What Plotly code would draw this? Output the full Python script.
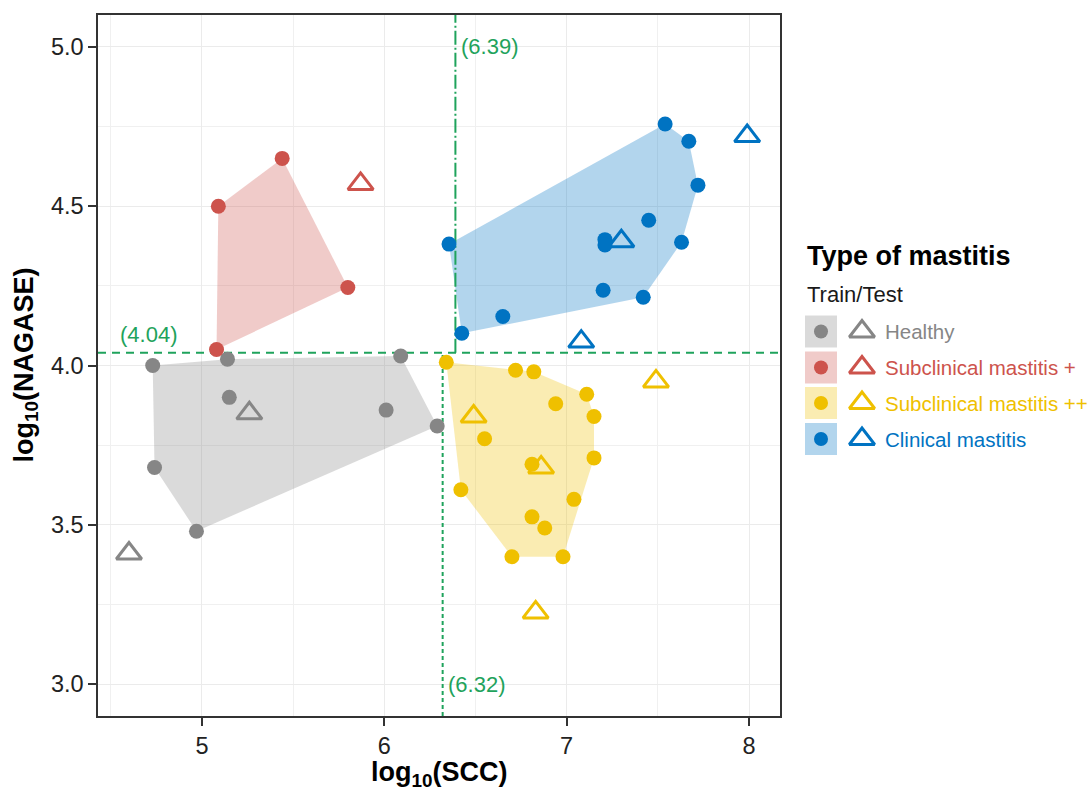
import plotly.graph_objects as go

# ---------------- data ----------------
healthy_train_x = [4.73, 5.14, 5.15, 4.74, 4.97, 6.01, 6.09, 6.29]
healthy_train_y = [4.00, 4.02, 3.90, 3.68, 3.48, 3.86, 4.03, 3.81]
healthy_test_x = [5.26, 4.60]
healthy_test_y = [3.85, 3.41]

sub1_train_x = [5.44, 5.09, 5.80, 5.08]
sub1_train_y = [4.65, 4.50, 4.245, 4.05]
sub1_test_x = [5.87]
sub1_test_y = [4.57]

sub2_train_x = [6.34, 6.72, 6.82, 7.11, 6.94, 7.15, 6.55, 7.15, 6.81, 6.42, 7.04, 6.81, 6.88, 6.70, 6.98]
sub2_train_y = [4.01, 3.985, 3.98, 3.91, 3.88, 3.84, 3.77, 3.71, 3.69, 3.61, 3.58, 3.525, 3.49, 3.40, 3.40]
sub2_test_x = [6.49, 6.86, 7.49, 6.83]
sub2_test_y = [3.84, 3.68, 3.95, 3.225]

clin_train_x = [7.54, 7.67, 7.72, 7.45, 6.355, 7.21, 7.21, 7.63, 7.20, 7.42, 6.65, 6.425]
clin_train_y = [4.758, 4.704, 4.566, 4.456, 4.381, 4.395, 4.378, 4.387, 4.236, 4.214, 4.154, 4.101]
clin_test_x = [7.30, 7.08, 7.99]
clin_test_y = [4.39, 4.075, 4.72]

group_names = ["Healthy", "Subclinical mastitis +", "Subclinical mastitis ++", "Clinical mastitis"]
group_colors = ["#868686", "#CD534C", "#EFC000", "#0073C2"]
group_fills = ["rgba(134,134,134,0.3)", "rgba(205,83,76,0.3)", "rgba(239,192,0,0.3)", "rgba(0,115,194,0.3)"]

scc_cut_low = 6.32
scc_cut_high = 6.39
nagase_cut = 4.04

x_range = [4.43, 8.17]
y_range = [2.9, 5.1]

GREEN = "#1FA35C"
FONT = "Arial, Liberation Sans, sans-serif"

train = [(healthy_train_x, healthy_train_y), (sub1_train_x, sub1_train_y),
         (sub2_train_x, sub2_train_y), (clin_train_x, clin_train_y)]
test = [(healthy_test_x, healthy_test_y), (sub1_test_x, sub1_test_y),
        (sub2_test_x, sub2_test_y), (clin_test_x, clin_test_y)]


def convex_hull(xs, ys):
    pts = sorted(set(zip(xs, ys)))
    if len(pts) <= 2:
        return pts

    def cross(o, a, b):
        return (a[0] - o[0]) * (b[1] - o[1]) - (a[1] - o[1]) * (b[0] - o[0])

    lower = []
    for p in pts:
        while len(lower) >= 2 and cross(lower[-2], lower[-1], p) <= 0:
            lower.pop()
        lower.append(p)
    upper = []
    for p in reversed(pts):
        while len(upper) >= 2 and cross(upper[-2], upper[-1], p) <= 0:
            upper.pop()
        upper.append(p)
    return lower[:-1] + upper[:-1]


fig = go.Figure()

# hulls
for (xs, ys), fc in zip(train, group_fills):
    h = convex_hull(xs, ys)
    hx = [p[0] for p in h] + [h[0][0]]
    hy = [p[1] for p in h] + [h[0][1]]
    fig.add_trace(go.Scatter(x=hx, y=hy, mode="lines", fill="toself", fillcolor=fc,
                             line=dict(width=0), hoverinfo="skip", showlegend=False))

# threshold lines
fig.add_trace(go.Scatter(x=x_range, y=[nagase_cut, nagase_cut], mode="lines",
                         line=dict(color=GREEN, width=2, dash="8px,6px"),
                         hoverinfo="skip", showlegend=False))
fig.add_trace(go.Scatter(x=[scc_cut_low, scc_cut_low], y=[y_range[0], nagase_cut], mode="lines",
                         line=dict(color=GREEN, width=2, dash="4px,3px"),
                         hoverinfo="skip", showlegend=False))
fig.add_trace(go.Scatter(x=[scc_cut_high, scc_cut_high], y=[nagase_cut, y_range[1]], mode="lines",
                         line=dict(color=GREEN, width=2, dash="14px,3px,2px,3px"),
                         hoverinfo="skip", showlegend=False))

TRI_SIZE = 22

# test triangles
for (xs, ys), c in zip(test, group_colors):
    fig.add_trace(go.Scatter(x=xs, y=ys, mode="markers",
                             marker=dict(symbol="triangle-up-open", size=TRI_SIZE, color=c,
                                         line=dict(width=3, color=c)),
                             showlegend=False))
# train circles
for (xs, ys), c in zip(train, group_colors):
    fig.add_trace(go.Scatter(x=xs, y=ys, mode="markers",
                             marker=dict(symbol="circle", size=15, color=c, line=dict(width=0)),
                             showlegend=False))

# ---------------- custom legend (pixel coordinates on hidden axes) ----------------
W, H = 1091, 794
ML, MR, MT, MB = 98, 1, 15, 78
PW = W - ML - MR
PH = H - MT - MB
main_dom = 682 / PW
leg_dom0 = 0.70
leg_x0 = ML + leg_dom0 * PW

legend_y = [331.5, 367.5, 403, 439]
box_x = [805, 837]
circle_x = 821
tri_x = 862
text_x = 883

for yc, c, fc, name in zip(legend_y, group_colors, group_fills, group_names):
    fig.add_shape(type="rect", xref="x2", yref="y2", x0=box_x[0], x1=box_x[1],
                  y0=yc - 16, y1=yc + 16, fillcolor=fc, line=dict(width=0))
    fig.add_trace(go.Scatter(x=[circle_x], y=[yc], xaxis="x2", yaxis="y2", mode="markers",
                             marker=dict(symbol="circle", size=14, color=c), showlegend=False,
                             hoverinfo="skip"))
    fig.add_trace(go.Scatter(x=[tri_x], y=[yc], xaxis="x2", yaxis="y2", mode="markers",
                             marker=dict(symbol="triangle-up-open", size=TRI_SIZE, color=c,
                                         line=dict(width=3, color=c)),
                             showlegend=False, hoverinfo="skip"))
    fig.add_annotation(x=text_x, y=yc, xref="x2", yref="y2", text=name, showarrow=False,
                       xanchor="left", yanchor="middle", font=dict(size=20.5, color=c, family=FONT))

fig.add_annotation(x=805, y=256, xref="x2", yref="y2", text="<b>Type of mastitis</b>",
                   showarrow=False, xanchor="left", yanchor="middle",
                   font=dict(size=27, color="#000000", family=FONT))
fig.add_annotation(x=805, y=294, xref="x2", yref="y2", text="Train/Test",
                   showarrow=False, xanchor="left", yanchor="middle",
                   font=dict(size=22, color="#1a1a1a", family=FONT))

# threshold labels
fig.add_annotation(x=scc_cut_high, y=5.0, xref="x", yref="y", text="(6.39)", showarrow=False,
                   xanchor="left", yanchor="middle", xshift=4,
                   font=dict(size=22, color=GREEN, family=FONT))
fig.add_annotation(x=scc_cut_low, y=3.0, xref="x", yref="y", text="(6.32)", showarrow=False,
                   xanchor="left", yanchor="middle", xshift=3,
                   font=dict(size=22, color=GREEN, family=FONT))
fig.add_annotation(x=4.54, y=nagase_cut, xref="x", yref="y", text="(4.04)", showarrow=False,
                   xanchor="left", yanchor="bottom", yshift=4,
                   font=dict(size=22, color=GREEN, family=FONT))

# axis titles
fig.add_annotation(x=main_dom / 2, y=-(774 - (H - MB)) / PH, xref="paper", yref="paper",
                   text="<b>log<sub>10</sub>(SCC)</b>", showarrow=False,
                   xanchor="center", yanchor="middle",
                   font=dict(size=27, color="#000000", family=FONT))
fig.add_annotation(x=(25 - ML) / PW, y=0.5, xref="paper", yref="paper",
                   text="<b>log<sub>10</sub>(NAGASE)</b>", showarrow=False, textangle=-90,
                   xanchor="center", yanchor="middle",
                   font=dict(size=27, color="#000000", family=FONT))

axis_common = dict(showline=True, mirror=True, linecolor="#333333", linewidth=1.5,
                   ticks="outside", ticklen=8, tickwidth=1.5, tickcolor="#333333",
                   gridcolor="#EBEBEB", gridwidth=1.3, zeroline=False,
                   tickfont=dict(size=23.5, color="#222222", family=FONT))

fig.update_layout(
    width=W, height=H,
    margin=dict(l=ML, r=MR, t=MT, b=MB),
    plot_bgcolor="white", paper_bgcolor="white",
    showlegend=False,
    xaxis=dict(domain=[0, main_dom], range=x_range, tickvals=[5, 6, 7, 8],
               minor=dict(tickvals=[4.5, 5.5, 6.5, 7.5], showgrid=True,
                          gridcolor="#F0F0F0", gridwidth=1, ticks=""),
               **axis_common),
    yaxis=dict(domain=[0, 1], range=y_range, tickvals=[3.0, 3.5, 4.0, 4.5, 5.0],
               ticktext=["3.0", "3.5", "4.0", "4.5", "5.0"],
               minor=dict(tickvals=[3.25, 3.75, 4.25, 4.75], showgrid=True,
                          gridcolor="#F0F0F0", gridwidth=1, ticks=""),
               **axis_common),
    xaxis2=dict(domain=[leg_dom0, 1], range=[leg_x0, W - MR], visible=False, anchor="y2"),
    yaxis2=dict(domain=[0, 1], range=[H - MB, MT], visible=False, anchor="x2"),
)

fig.write_html("out.html")
